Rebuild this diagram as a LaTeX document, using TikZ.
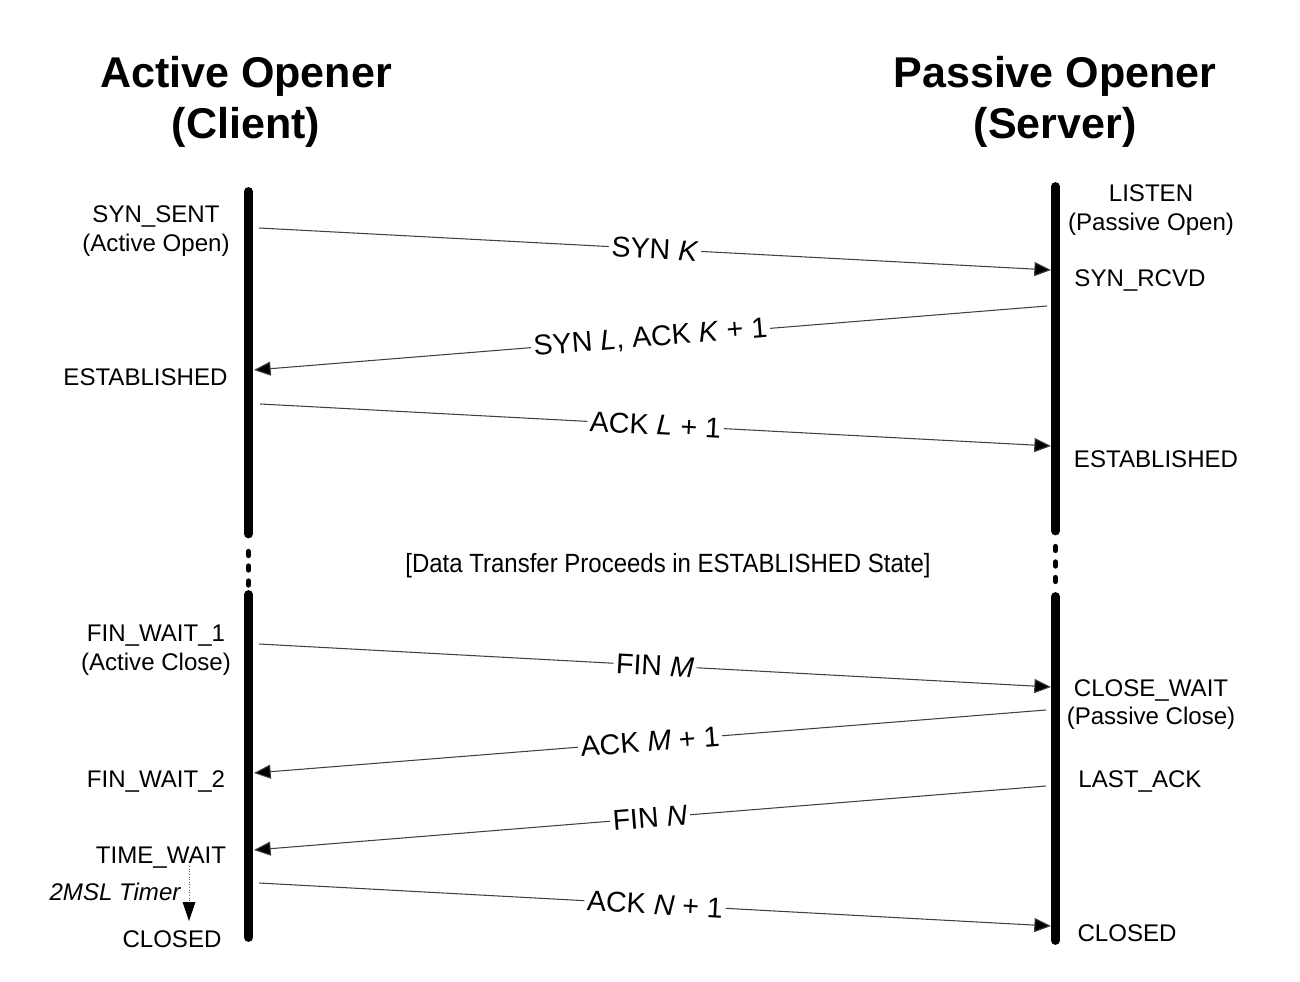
\documentclass[tikz,border=0pt]{standalone}
\usepackage{fontspec}
\setmainfont{Liberation Sans}
\usetikzlibrary{arrows.meta}
\begin{document}
\begin{tikzpicture}[x=0.02cm,y=-0.02cm,
  title/.style={font=\fontsize{24.5pt}{29pt}\selectfont\bfseries, align=center, inner sep=0pt},
  state/.style={font=\fontsize{13.7pt}{16.4pt}\selectfont, align=center, inner sep=0pt},
  life/.style={line width=5pt, line cap=round},
  lifedot/.style={line width=3pt, line cap=round},
  msg/.style={draw=black!75, line width=0.6pt, -{Triangle[length=9.5pt,width=8pt,fill=black]}},
  msglab/.style={font=\fontsize{16.3pt}{18pt}\selectfont, fill=white, inner sep=1.5pt, sloped, midway}
]
\useasboundingbox (0,0) rectangle (1300,982);

% titles
\node[title] (tl) at (246,102) {Active Opener\\(Client)};
\node[title] (tr) at (1055,102) {Passive Opener\\(Server)};

% lifelines
\coordinate (L1a) at (248.5,191.5); \coordinate (L1b) at (248.5,534);
\coordinate (L2a) at (248.5,594.5); \coordinate (L2b) at (248.5,937.5);
\coordinate (R1a) at (1055.5,186.5); \coordinate (R1b) at (1055.5,531);
\coordinate (R2a) at (1055.5,596.5); \coordinate (R2b) at (1055.5,940.5);
\draw[life] (L1a) -- (L1b);
\draw[life] (L2a) -- (L2b);
\draw[life] (R1a) -- (R1b);
\draw[life] (R2a) -- (R2b);
\foreach \y in {553.5,568,583} \draw[lifedot] (248.5,\y-2) -- (248.5,\y+2);
\foreach \y in {548.5,564,579.5} \draw[lifedot] (1055.5,\y-2) -- (1055.5,\y+2);

% states (client)
\node[state] (synsent) at (156,231.5) {SYN\_SENT\\(Active Open)};
\node[state] (estL) at (145.5,377.5) {ESTABLISHED};
\node[state] (fw1) at (156,650.5) {FIN\_WAIT\_1\\(Active Close)};
\node[state] (fw2) at (156,781.5) {FIN\_WAIT\_2};
\node[state] (tw) at (161,857.5) {TIME\_WAIT};
\node[state, font=\fontsize{13.7pt}{16.4pt}\selectfont\itshape] (timer) at (115,892) {2MSL Timer};
\node[state] (closedL) at (172,939.5) {CLOSED};

% states (server)
\node[state] (listen) at (1151,210) {LISTEN\\(Passive Open)};
\node[state] (synrcvd) at (1140,280.5) {SYN\_RCVD};
\node[state] (estR) at (1156,459.5) {ESTABLISHED};
\node[state] (cw) at (1151,704.5) {CLOSE\_WAIT\\(Passive Close)};
\node[state] (lastack) at (1140,781.5) {LAST\_ACK};
\node[state] (closedR) at (1127,933.5) {CLOSED};

% data transfer
\node[inner sep=0pt] (data) at (668,566) {\scalebox{0.91}[1]{\fontsize{15pt}{18pt}\selectfont [Data Transfer Proceeds in ESTABLISHED State]}};

% timer arrow
\coordinate (tma) at (189,866);
\coordinate (tmb) at (189,921);
\draw[black!60, line width=0.5pt, densely dotted] (tma) -- (189,903);
\draw[draw=none, fill=black] (182.5,902) -- (195.5,902) -- (tmb) -- cycle;

% message endpoints
\coordinate (m1a) at (259,228);  \coordinate (m1b) at (1051,270);
\coordinate (m2a) at (1047,306); \coordinate (m2b) at (254,370);
\coordinate (m3a) at (260,404);  \coordinate (m3b) at (1051,446);
\coordinate (m4a) at (259,644);  \coordinate (m4b) at (1051,687);
\coordinate (m5a) at (1046,710); \coordinate (m5b) at (254,773);
\coordinate (m6a) at (1046,786); \coordinate (m6b) at (254,850);
\coordinate (m7a) at (259,883);  \coordinate (m7b) at (1051,926);

\draw[msg] (m1a) -- node[msglab] {SYN \textit{K}} (m1b);
\draw[msg] (m2a) -- node[msglab] {SYN \textit{L}, ACK \textit{K} + 1} (m2b);
\draw[msg] (m3a) -- node[msglab] {ACK \textit{L} + 1} (m3b);
\draw[msg] (m4a) -- node[msglab] {FIN \textit{M}} (m4b);
\draw[msg] (m5a) -- node[msglab] {ACK \textit{M} + 1} (m5b);
\draw[msg] (m6a) -- node[msglab] {FIN \textit{N}} (m6b);
\draw[msg] (m7a) -- node[msglab] {ACK \textit{N} + 1} (m7b);
\end{tikzpicture}
\end{document}
